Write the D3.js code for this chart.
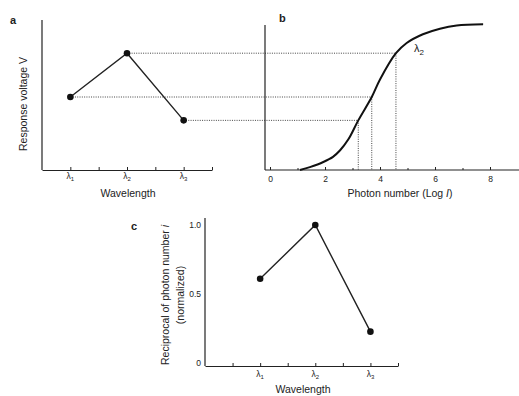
<!DOCTYPE html>
<html><head><meta charset="utf-8">
<script src="https://cdn.jsdelivr.net/npm/d3@7"></script>
<style>body{margin:0;background:#fff}svg{display:block}text{font-family:"Liberation Sans",Arial,sans-serif;fill:#222}</style>
</head><body>
<script>
// ---- data ----
const wavelengths = ["1", "2", "3"];            // λ subscripts
const wavePos = [1, 3, 5];                       // positions on panel a axis
const wavePosC = [2, 4, 6];                      // positions on panel c axis
const responseV = [0.50, 0.80, 0.34];            // panel a response voltage (normalized)
const crossLog = [3.70, 4.58, 3.21];             // log I where each response meets curve
const curveLog = [1.09, 1.45, 1.94, 2.29, 2.55, 2.85, 3.21, 3.70, 4.0, 4.58, 4.97, 5.56, 6.18, 6.79, 7.75];
const curveV   = [0.0, 0.02, 0.055, 0.09, 0.135, 0.21, 0.34, 0.50, 0.62, 0.80, 0.87, 0.93, 0.968, 0.99, 0.998];
const photonTicks = [0, 2, 4, 6, 8];
const photonMinor = [1, 3, 5, 7];
const reciprocal = [0.61, 1.0, 0.227];           // panel c
const cTicks = [0, 0.5, 1.0];

const W = 519, H = 396, ink = "#222";
const svg = d3.select("body").append("svg").attr("width", W).attr("height", H);

// ---- scales ----
const xa = d3.scaleLinear().domain([0, 6]).range([42, 212]);
const yv = d3.scaleLinear().domain([0, 1]).range([170, 24]);
const xb = d3.scaleLinear().domain([0, 8]).range([270, 490]);
const xc = d3.scaleLinear().domain([0, 7]).range([205, 398]);
const yc = d3.scaleLinear().domain([0, 1]).range([363, 225]);

function lambdaLabel(g, x, y, sub) {
  const t = g.append("text").attr("x", x).attr("y", y).attr("text-anchor", "middle").attr("font-size", 8.5);
  t.append("tspan").text("λ");
  t.append("tspan").attr("font-size", 6).attr("dy", 2).text(sub);
}

// ---- dotted guide lines (a -> b) ----
const dots = svg.append("g").attr("stroke", "#444").attr("stroke-width", 1).attr("stroke-dasharray", "1,1.3").attr("fill", "none");
responseV.forEach((v, i) => {
  dots.append("line").attr("x1", xa(wavePos[i])).attr("x2", xb(crossLog[i])).attr("y1", yv(v)).attr("y2", yv(v));
  dots.append("line").attr("x1", xb(crossLog[i])).attr("x2", xb(crossLog[i])).attr("y1", yv(v)).attr("y2", yv(0));
});

// ---- panel a ----
const ga = svg.append("g");
ga.append("line").attr("x1", xa(0)).attr("x2", xa(0)).attr("y1", 20).attr("y2", yv(0)).attr("stroke", ink).attr("stroke-width", 1.2);
ga.append("g").attr("transform", `translate(0,${yv(0)})`)
  .call(d3.axisBottom(xa).tickValues([1,2,3,4,5,6]).tickSize(-3).tickSizeOuter(0).tickFormat(""))
  .call(g => { g.select(".domain").attr("stroke", ink).attr("stroke-width", 1.2); g.selectAll(".tick line").attr("stroke", ink); });
wavelengths.forEach((s, i) => lambdaLabel(ga, xa(wavePos[i]), 179, s));
const lineA = d3.line().x((d, i) => xa(wavePos[i])).y(d => yv(d));
ga.append("path").datum(responseV).attr("d", lineA).attr("fill", "none").attr("stroke", ink).attr("stroke-width", 1.4);
ga.selectAll("circle").data(responseV).join("circle").attr("cx", (d, i) => xa(wavePos[i])).attr("cy", d => yv(d)).attr("r", 3.3).attr("fill", "#111");
ga.append("text").attr("x", 128).attr("y", 197).attr("text-anchor", "middle").attr("font-size", 10.5).text("Wavelength");
ga.append("text").attr("transform", "translate(27,104) rotate(-90)").attr("text-anchor", "middle").attr("font-size", 10.5).text("Response voltage V");
ga.append("text").attr("x", 10).attr("y", 24).attr("font-size", 11).attr("font-weight", "bold").text("a");

// ---- panel b ----
const gb = svg.append("g");
gb.append("line").attr("x1", 265).attr("x2", 265).attr("y1", 25).attr("y2", yv(0)).attr("stroke", ink).attr("stroke-width", 1.2);
gb.append("line").attr("x1", 265).attr("x2", 519).attr("y1", yv(0)).attr("y2", yv(0)).attr("stroke", ink).attr("stroke-width", 1.2);
gb.append("g").attr("transform", `translate(0,${yv(0)})`)
  .call(d3.axisBottom(xb).tickValues(photonTicks).tickSize(-3).tickPadding(6).tickFormat(d3.format("d")))
  .call(g => { g.select(".domain").remove(); g.selectAll(".tick line").attr("stroke", ink);
               g.selectAll(".tick text").attr("font-size", 8.5).attr("fill", ink).style("font-family", '"Liberation Sans",Arial,sans-serif'); });
gb.append("g").attr("transform", `translate(0,${yv(0)})`)
  .call(d3.axisBottom(xb).tickValues(photonMinor).tickSize(-2).tickFormat(""))
  .call(g => { g.select(".domain").remove(); g.selectAll(".tick line").attr("stroke", ink); });
const curve = d3.line().x((d, i) => xb(curveLog[i])).y(d => yv(d)).curve(d3.curveCatmullRom.alpha(0.5));
gb.append("path").datum(curveV).attr("d", curve).attr("fill", "none").attr("stroke", "#111").attr("stroke-width", 2);
const l2 = gb.append("text").attr("x", 414).attr("y", 52).attr("font-size", 11);
l2.append("tspan").text("λ"); l2.append("tspan").attr("font-size", 8).attr("dy", 3).text("2");
const xt = gb.append("text").attr("x", 400).attr("y", 197).attr("text-anchor", "middle").attr("font-size", 10.5);
xt.append("tspan").text("Photon number (Log ");
xt.append("tspan").attr("font-style", "italic").text("I");
xt.append("tspan").text(")");
gb.append("text").attr("x", 279).attr("y", 22).attr("font-size", 11).attr("font-weight", "bold").text("b");

// ---- panel c ----
const gc = svg.append("g");
gc.append("line").attr("x1", xc(0)).attr("x2", xc(0)).attr("y1", 218).attr("y2", 366).attr("stroke", ink).attr("stroke-width", 1.2);
gc.append("g").attr("transform", "translate(0,366)")
  .call(d3.axisBottom(xc).tickValues([1,2,3,4,5,6,7]).tickSize(-3).tickSizeOuter(0).tickFormat(""))
  .call(g => { g.select(".domain").attr("stroke", ink).attr("stroke-width", 1.2); g.selectAll(".tick line").attr("stroke", ink); });
wavelengths.forEach((s, i) => lambdaLabel(gc, xc(wavePosC[i]), 377, s));
gc.append("g").attr("transform", `translate(${xc(0)},0)`)
  .call(d3.axisLeft(yc).tickValues(cTicks).tickSize(0).tickPadding(4).tickFormat(d => d === 0 ? "0" : d3.format(".1f")(d)))
  .call(g => { g.select(".domain").remove();
               g.selectAll(".tick text").attr("font-size", 8.5).attr("fill", ink).style("font-family", '"Liberation Sans",Arial,sans-serif'); });
const lineC = d3.line().x((d, i) => xc(wavePosC[i])).y(d => yc(d));
gc.append("path").datum(reciprocal).attr("d", lineC).attr("fill", "none").attr("stroke", ink).attr("stroke-width", 1.4);
gc.selectAll("circle").data(reciprocal).join("circle").attr("cx", (d, i) => xc(wavePosC[i])).attr("cy", d => yc(d)).attr("r", 3.3).attr("fill", "#111");
gc.append("text").attr("x", 303).attr("y", 393).attr("text-anchor", "middle").attr("font-size", 10.5).text("Wavelength");
const yl = gc.append("text").attr("transform", "translate(169,295) rotate(-90)").attr("text-anchor", "middle").attr("font-size", 10.5);
yl.append("tspan").text("Reciprocal of photon number ");
yl.append("tspan").attr("font-style", "italic").text("i");
gc.append("text").attr("transform", "translate(184,295) rotate(-90)").attr("text-anchor", "middle").attr("font-size", 10.5).text("(normalized)");
gc.append("text").attr("x", 131).attr("y", 230).attr("font-size", 11).attr("font-weight", "bold").text("c");
</script>
</body></html>
